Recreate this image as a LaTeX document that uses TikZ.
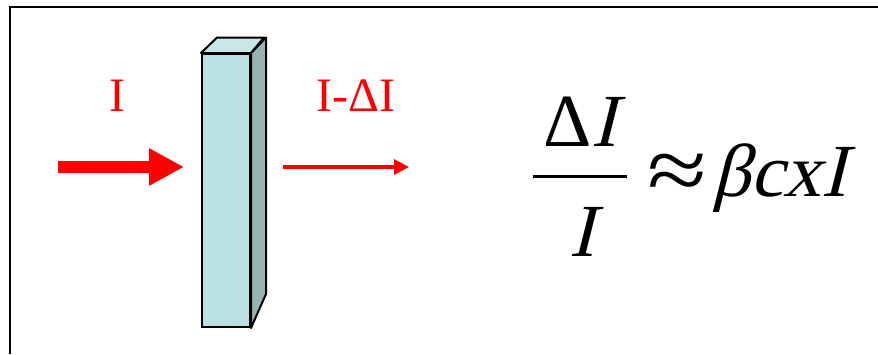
\documentclass[tikz,border=0pt]{standalone}
\usepackage{fontspec}
\setmainfont{Liberation Serif}
\newfontfamily\eqit{Liberation Serif}[FakeSlant=0.25]
\usepackage{xcolor}
\usepackage{tikz}
\usetikzlibrary{arrows.meta,positioning,calc}
\definecolor{slabfront}{HTML}{BBE0E3}
\definecolor{slabtop}{HTML}{C9E6E8}
\definecolor{slabside}{HTML}{96B3B5}
\begin{document}
\begin{tikzpicture}[
  x=1pt,y=-1pt,
  frame/.style={line width=2.2pt,black},
  slab/.style={draw,line width=2pt,fill=slabfront,minimum width=48pt,minimum height=273pt,inner sep=0pt},
  face/.style={draw,line width=2pt,line join=round},
  beam/.style={-{Triangle[length=35pt,width=35pt]},line width=11.7pt,red},
  thinbeam/.style={-{Triangle[length=15pt,width=15pt]},line width=3.5pt,red},
  lbl/.style={red,inner sep=0pt,font=\fontsize{48}{56}\selectfont},
  eq/.style={inner sep=0pt,font=\fontsize{75}{90}\selectfont}
]
\useasboundingbox (0,0) rectangle (878,354);
\draw[frame] (10,354) -- (10,7) -- (878,7);

\node[slab] (slab) at (226,190.5) {};
\draw[face,fill=slabtop] (slab.north west) -- ++(16,-15.5) -- ++(47,0) -- (slab.north east) -- cycle;
\draw[face,fill=slabside] (slab.north east) -- ++(15,-15.5) -- ++(0,256.5) -- (slab.south east) -- cycle;

\coordinate (inStart) at (58,167);
\coordinate (outEnd) at (409,167);
\draw[beam,shorten >=17pt] (inStart) -- (slab.west |- inStart);
\draw[thinbeam,shorten <=32pt] (slab.east |- outEnd) -- (outEnd);

\node[lbl,anchor=base] (inLabel) at (117.7,111) {I};
\node[lbl,anchor=base] (outLabel) at (356,111) {I-ΔI};

\node[eq,anchor=base] (num) at (580,146) {Δ{\eqit I}};
\node[eq,anchor=base] (den) at (582,256) {{\eqit I}};
\coordinate (barL) at (533,176.7);
\coordinate (barR) at (627,176.7);
\draw[line width=3.5pt] (barL) -- (barR);
\node[eq,anchor=base west] (approx) at (647,200) {\scalebox{1.45}[1.2]{≈}};
\node[eq,anchor=base west] (rhs) at (712,196) {{\eqit βcxI}};
\end{tikzpicture}
\end{document}
